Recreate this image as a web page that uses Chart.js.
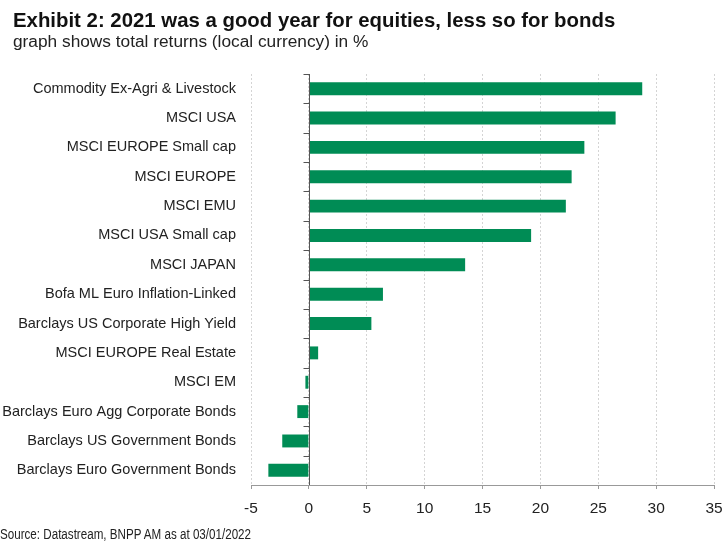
<!DOCTYPE html>
<html>
<head>
<meta charset="utf-8">
<script src="https://cdn.jsdelivr.net/npm/chart.js@4"></script>
<style>
  html, body { margin:0; padding:0; background:#fff; }
  body { width:725px; height:549px; position:relative; overflow:hidden; font-family:"Liberation Sans",Arial,sans-serif; color:#111; }
  #title { position:absolute; left:13px; top:8px; font-size:21px; line-height:24px; font-weight:bold; white-space:nowrap; transform:scaleX(0.97); transform-origin:0 0; }
  #subtitle { position:absolute; left:13px; top:31px; font-size:17.3px; line-height:20px; white-space:nowrap; color:#222; }
  #source { position:absolute; left:0px; top:526px; font-size:14px; line-height:16px; white-space:nowrap; color:#222; transform:scaleX(0.83); transform-origin:0 0; }
  #wrap { position:absolute; left:0; top:0; width:725px; height:549px; }
</style>
</head>
<body>
<div id="wrap"><canvas id="c"></canvas></div>
<div id="title">Exhibit 2: 2021 was a good year for equities, less so for bonds</div>
<div id="subtitle">graph shows total returns (local currency) in %</div>
<div id="source">Source: Datastream, BNPP AM as at 03/01/2022</div>
<script>
const categories = [
  "Commodity Ex-Agri & Livestock",
  "MSCI USA",
  "MSCI EUROPE Small cap",
  "MSCI EUROPE",
  "MSCI EMU",
  "MSCI USA Small cap",
  "MSCI JAPAN",
  "Bofa ML Euro Inflation-Linked",
  "Barclays US Corporate High Yield",
  "MSCI EUROPE Real Estate",
  "MSCI EM",
  "Barclays Euro Agg Corporate Bonds",
  "Barclays US Government Bonds",
  "Barclays Euro Government Bonds"
];
const returns2021 = [28.8, 26.5, 23.8, 22.7, 22.2, 19.2, 13.5, 6.4, 5.4, 0.8, -0.3, -1.0, -2.3, -3.5];
const xMin = -5, xMax = 35, xStep = 5;

// zero line with small category ticks on its left
const zeroAxis = {
  id: "zeroAxis",
  afterDatasetsDraw(chart){
    const {ctx, chartArea, scales:{x, y}} = chart;
    const x0 = Math.round(x.getPixelForValue(0)) + 0.5;
    ctx.save();
    ctx.strokeStyle = "#555";
    ctx.lineWidth = 1;
    ctx.beginPath();
    ctx.moveTo(x0, chartArea.top);
    ctx.lineTo(x0, chartArea.bottom);
    const n = categories.length;
    const step = (chartArea.bottom - chartArea.top) / n;
    for(let i=0;i<n;i++){
      const yy = Math.round(y.getPixelForValue(i) - step/2) + 0.5;
      ctx.moveTo(x0 - 6, yy);
      ctx.lineTo(x0, yy);
    }
    ctx.stroke();
    ctx.restore();
  }
};

new Chart(document.getElementById("c"), {
  type: "bar",
  data: {
    labels: categories,
    datasets: [{
      data: returns2021,
      backgroundColor: "#008c55",
      borderWidth: 0,
      barPercentage: 0.44,
      categoryPercentage: 1
    }]
  },
  options: {
    indexAxis: "y",
    responsive: true,
    maintainAspectRatio: false,
    animation: false,
    layout: { padding: { top: 74, right: 11, bottom: 0, left: 0 } },
    plugins: { legend:{ display:false }, tooltip:{ enabled:false } },
    scales: {
      x: {
        min: xMin, max: xMax,
        afterFit(s){ s.height = 64; s.paddingLeft = 0; s.paddingRight = 0; },
        ticks: { stepSize: xStep, color:"#222", padding: 10, font:{ family:"Liberation Sans", size:15.5 } },
        grid: { color:"#d4d4d4", lineWidth:1, drawTicks:true, tickLength:4, tickColor:"#999", tickBorderDash:[] },
        border: { display:true, color:"#999", width:1, dash:[2,2] }
      },
      y: {
        afterFit(s){ s.width = 251; s.paddingTop = 0; s.paddingBottom = 0; },
        ticks: { color:"#222", padding: 15, font:{ family:"Liberation Sans", size:14.5 } },
        grid: { display:false, drawTicks:false },
        border: { display:false }
      }
    }
  },
  plugins: [zeroAxis]
});
</script>
</body>
</html>
